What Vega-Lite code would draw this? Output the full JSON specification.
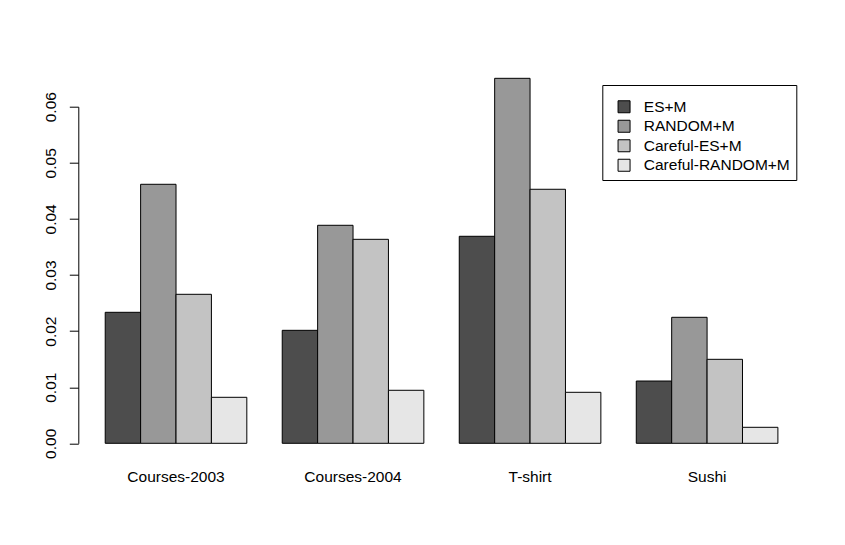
{
  "$schema": "https://vega.github.io/schema/vega-lite/v6.json",
  "width": 726.5,
  "height": 336.6,
  "autosize": {"type": "none"},
  "padding": {"left": 78.3, "top": 106.7, "right": 40.2, "bottom": 101.7},
  "background": "white",
  "config": {
    "view": {"stroke": null},
    "font": "Liberation Sans"
  },
  "data": {
    "values": [
      {"group": "Courses-2003", "series": "ES+M", "value": 0.02335},
      {"group": "Courses-2003", "series": "RANDOM+M", "value": 0.04617},
      {"group": "Courses-2003", "series": "Careful-ES+M", "value": 0.02656},
      {"group": "Courses-2003", "series": "Careful-RANDOM+M", "value": 0.0082},
      {"group": "Courses-2004", "series": "ES+M", "value": 0.02014},
      {"group": "Courses-2004", "series": "RANDOM+M", "value": 0.03886},
      {"group": "Courses-2004", "series": "Careful-ES+M", "value": 0.03636},
      {"group": "Courses-2004", "series": "Careful-RANDOM+M", "value": 0.00945},
      {"group": "T-shirt", "series": "ES+M", "value": 0.0369},
      {"group": "T-shirt", "series": "RANDOM+M", "value": 0.06506},
      {"group": "T-shirt", "series": "Careful-ES+M", "value": 0.04528},
      {"group": "T-shirt", "series": "Careful-RANDOM+M", "value": 0.00909},
      {"group": "Sushi", "series": "ES+M", "value": 0.0111},
      {"group": "Sushi", "series": "RANDOM+M", "value": 0.02246},
      {"group": "Sushi", "series": "Careful-ES+M", "value": 0.01497},
      {"group": "Sushi", "series": "Careful-RANDOM+M", "value": 0.00285}
    ]
  },
  "mark": {"type": "bar", "stroke": "black", "strokeWidth": 1, "opacity": 1},
  "encoding": {
    "x": {
      "field": "group",
      "type": "nominal",
      "sort": ["Courses-2003", "Courses-2004", "T-shirt", "Sushi"],
      "scale": {"paddingInner": 0.2, "paddingOuter": 0.152},
      "axis": {
        "title": null,
        "domain": false,
        "ticks": false,
        "labelAngle": 0,
        "labelPadding": 26,
        "labelFontSize": 15.5,
        "labelColor": "black",
        "labelFont": "Liberation Sans"
      }
    },
    "xOffset": {
      "field": "series",
      "type": "nominal",
      "sort": ["ES+M", "RANDOM+M", "Careful-ES+M", "Careful-RANDOM+M"],
      "scale": {"paddingInner": 0, "paddingOuter": 0}
    },
    "y": {
      "field": "value",
      "type": "quantitative",
      "scale": {"domain": [0, 0.06], "nice": false, "zero": true},
      "axis": {
        "title": null,
        "grid": false,
        "values": [0, 0.01, 0.02, 0.03, 0.04, 0.05, 0.06],
        "format": ".2f",
        "labelAngle": -90,
        "labelAlign": "center",
        "labelBaseline": "bottom",
        "labelPadding": 11,
        "tickSize": 9,
        "tickColor": "black",
        "domainColor": "black",
        "labelFontSize": 15.5,
        "labelColor": "black",
        "labelFont": "Liberation Sans"
      }
    },
    "color": {
      "field": "series",
      "type": "nominal",
      "sort": ["ES+M", "RANDOM+M", "Careful-ES+M", "Careful-RANDOM+M"],
      "scale": {
        "domain": ["ES+M", "RANDOM+M", "Careful-ES+M", "Careful-RANDOM+M"],
        "range": ["#4D4D4D", "#989898", "#C3C3C3", "#E6E6E6"]
      },
      "legend": {
        "title": " ",
        "titleFontSize": 6,
        "titlePadding": 2,
        "orient": "none",
        "legendX": 524,
        "legendY": -21.7,
        "strokeColor": "black",
        "fillColor": "white",
        "padding": 6,
        "rowPadding": 1.5,
        "symbolType": "square",
        "symbolSize": 144,
        "symbolOffset": 8,
        "symbolStrokeColor": "black",
        "symbolStrokeWidth": 1,
        "symbolOpacity": 1,
        "labelOffset": 12,
        "labelFontSize": 15.5,
        "labelColor": "black",
        "labelFont": "Liberation Sans",
        "labelLimit": 300
      }
    }
  }
}
